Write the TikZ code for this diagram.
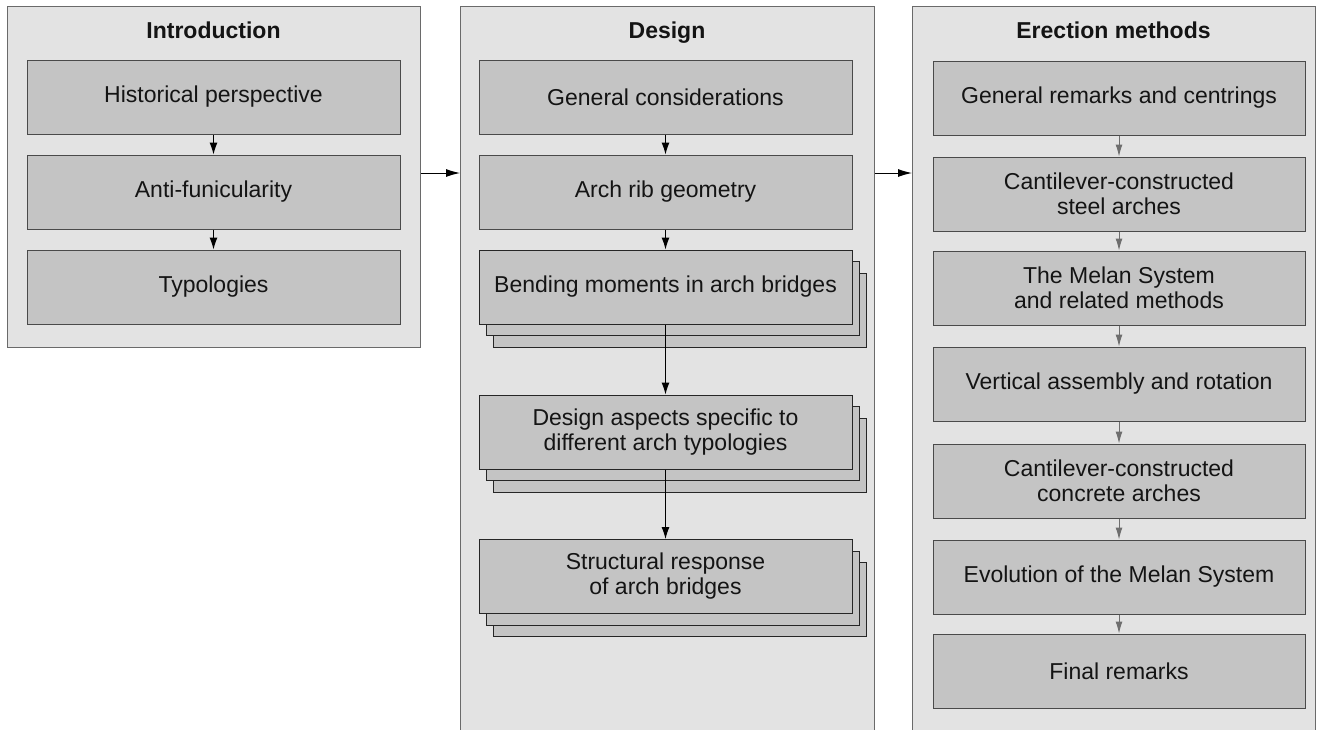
\documentclass[tikz,border=0pt]{standalone}
\usepackage{fontspec}
\setmainfont{Liberation Sans}
\usetikzlibrary{arrows.meta}
\definecolor{panelfill}{HTML}{E3E3E3}
\definecolor{boxfill}{HTML}{C4C4C4}
\definecolor{panelline}{HTML}{6A6A6A}
\definecolor{boxline}{HTML}{4A4A4A}
\definecolor{greyarrow}{HTML}{6E6E6E}
\definecolor{txt}{HTML}{141414}
\begin{document}
\begin{tikzpicture}[x=1pt,y=-1pt,
  panel/.style={draw=panelline, fill=panelfill, line width=1pt, inner sep=0pt, anchor=north west},
  box/.style={draw=boxline, fill=boxfill, line width=1pt, minimum width=373pt, minimum height=74pt,
    inner sep=0pt, align=center, text=txt, font=\fontsize{23}{25}\selectfont},
  backbox/.style={box, draw=black!85},
  ptitle/.style={text=txt, font=\fontsize{23}{25}\selectfont\bfseries, inner sep=0pt, anchor=base},
  arr/.style={line width=1pt, draw=black, -{Latex[length=12pt,width=8pt]}},
  garr/.style={line width=1pt, draw=greyarrow, -{Latex[length=12pt,width=7pt]}},
  harr/.style={line width=1pt, draw=black, -{Latex[length=14pt,width=8pt]}}
]
\useasboundingbox (0,0) rectangle (1327,729);
% panels
\node[panel, minimum width=413pt, minimum height=341pt] (intro) at (7,6) {};
\node[panel, minimum width=414pt, minimum height=740pt] (design) at (460,6) {};
\node[panel, minimum width=403pt, minimum height=740pt] (erect) at (912,6) {};
\node[ptitle] (tintro) at (213.5,38) {Introduction};
\node[ptitle] (tdesign) at (667,38) {Design};
\node[ptitle] (terect) at (1113.5,38) {Erection methods};
% introduction
\node[box] (hp) at (213.5,97) {Historical perspective};
\node[box] (af) at (213.5,192) {Anti-funicularity};
\node[box] (ty) at (213.5,287) {Typologies};
\draw[arr] (hp) -- (af);
\draw[arr] (af) -- (ty);
% design
\node[box] (gc) at (665.5,97) {General considerations};
\node[box] (ar) at (665.5,192) {Arch rib geometry};
\node[backbox] (bm3) at (679.5,310) {};
\node[backbox] (bm2) at (672.5,298.5) {};
\node[box, draw=black!85] (bm) at (665.5,287) {Bending moments in arch bridges};
\node[backbox] (da3) at (679.5,455) {};
\node[backbox] (da2) at (672.5,443.5) {};
\node[box, draw=black!85] (da) at (665.5,432) {Design aspects specific to\\different arch typologies};
\node[backbox] (sr3) at (679.5,599.5) {};
\node[backbox] (sr2) at (672.5,588) {};
\node[box, draw=black!85] (sr) at (665.5,576.5) {Structural response\\of arch bridges};
\draw[arr] (gc) -- (ar);
\draw[arr] (ar) -- (bm);
\draw[arr] (bm) -- (da);
\draw[arr] (da) -- (sr);
% erection methods
\node[box, minimum width=372pt] (e1) at (1119,98) {General remarks and centrings};
\node[box, minimum width=372pt] (e2) at (1119,194) {Cantilever-constructed\\steel arches};
\node[box, minimum width=372pt] (e3) at (1119,288) {The Melan System\\and related methods};
\node[box, minimum width=372pt] (e4) at (1119,384) {Vertical assembly and rotation};
\node[box, minimum width=372pt] (e5) at (1119,481) {Cantilever-constructed\\concrete arches};
\node[box, minimum width=372pt] (e6) at (1119,577) {Evolution of the Melan System};
\node[box, minimum width=372pt] (e7) at (1119,671) {Final remarks};
\draw[garr] (e1) -- (e2);
\draw[garr] (e2) -- (e3);
\draw[garr] (e3) -- (e4);
\draw[garr] (e4) -- (e5);
\draw[garr] (e5) -- (e6);
\draw[garr] (e6) -- (e7);
% panel connectors
\draw[harr] (intro.east |- 0,173) -- (design.west |- 0,173);
\draw[harr] (design.east |- 0,173) -- (erect.west |- 0,173);
\end{tikzpicture}
\end{document}
